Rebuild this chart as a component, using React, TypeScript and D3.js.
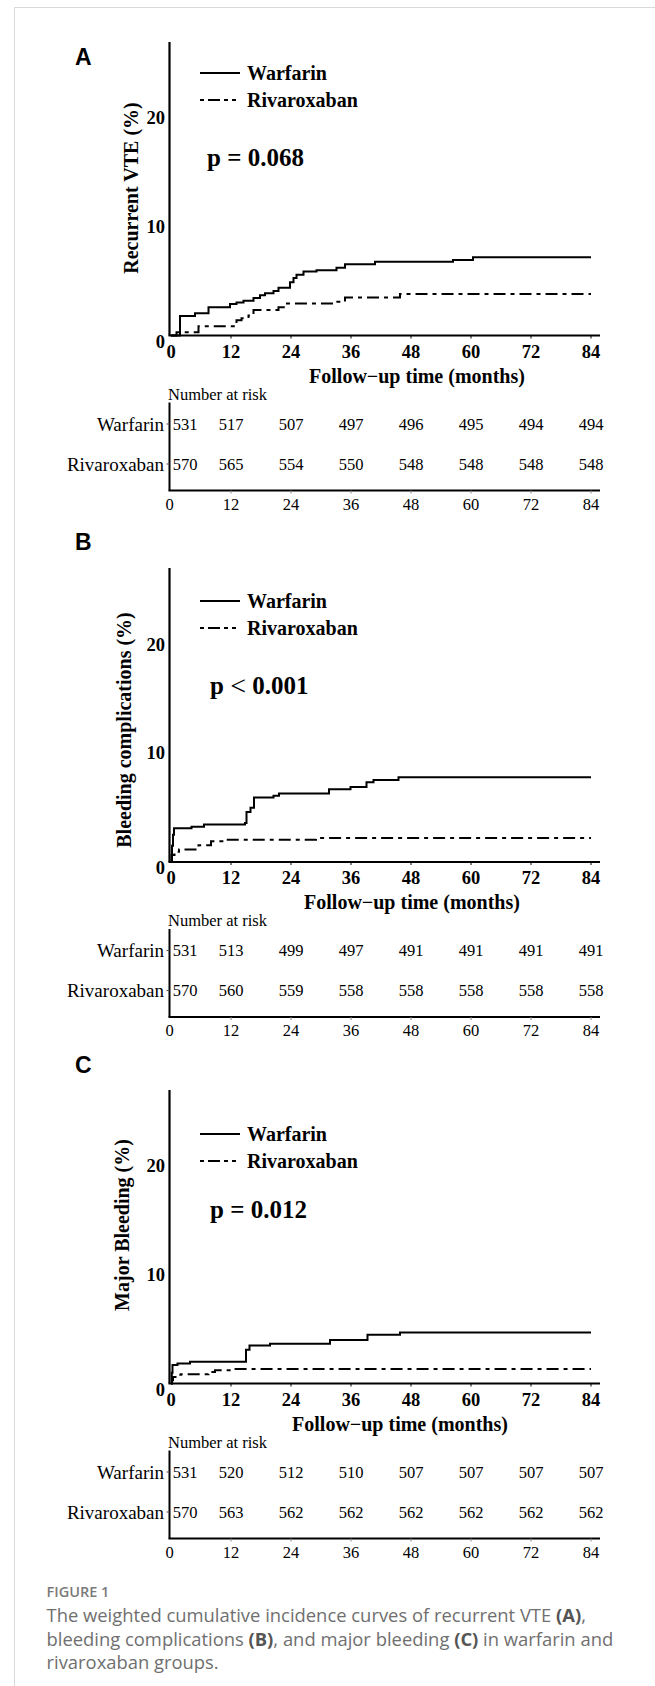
import React, { useRef, useEffect } from 'react';
import * as d3 from 'd3';

type Pt = [number, number];

const monthTicks = [0, 12, 24, 36, 48, 60, 72, 84];
const yTicks = [0, 10, 20];
const groups = ['Warfarin', 'Rivaroxaban'];

// (A) recurrent VTE, cumulative incidence (%), step points [month, value]
const vteWarfarin: Pt[] = [
  [0, 0], [1.8, 1.8], [4.8, 2.05], [7.5, 2.6], [11.8, 2.9], [13.1, 3.05], [14.5, 3.2],
  [16.5, 3.45], [17.8, 3.7], [18.8, 3.9], [20.5, 4.1], [21.5, 4.4], [23.8, 4.9], [24.5, 5.3],
  [25.1, 5.6], [26.5, 5.9], [29.1, 6.0], [33.1, 6.25], [34.8, 6.55], [40.8, 6.8], [56.4, 6.95],
  [60.4, 7.2], [84, 7.2],
];
const vteRivaroxaban: Pt[] = [
  [0, 0], [1.1, 0.3], [5.5, 0.85], [13.1, 1.4], [14.1, 1.6], [15.5, 1.85], [16.5, 2.35],
  [21.5, 2.6], [22.8, 2.95], [33, 3.1], [34.8, 3.5], [45.8, 3.82], [84, 3.82],
];
const vteRiskWarfarin = [531, 517, 507, 497, 496, 495, 494, 494];
const vteRiskRivaroxaban = [570, 565, 554, 550, 548, 548, 548, 548];

// (B) bleeding complications
const bleedWarfarin: Pt[] = [
  [0, 0], [0.2, 1.5], [0.4, 2.5], [0.6, 3.1], [4.1, 3.25], [6.6, 3.45], [14.8, 3.6],
  [15.1, 4.6], [15.9, 5.0], [16.6, 5.95], [20.5, 6.1], [21.6, 6.3], [31.6, 6.7], [35.9, 6.9],
  [39.1, 7.35], [40.5, 7.55], [45.5, 7.8], [84, 7.8],
];
const bleedRivaroxaban: Pt[] = [
  [0, 0], [0.1, 0.65], [0.7, 0.95], [1.6, 1.15], [5.5, 1.55], [8, 1.9], [10.8, 2.05],
  [29, 2.2], [84, 2.2],
];
const bleedRiskWarfarin = [531, 513, 499, 497, 491, 491, 491, 491];
const bleedRiskRivaroxaban = [570, 560, 559, 558, 558, 558, 558, 558];

// (C) major bleeding
const majorWarfarin: Pt[] = [
  [0, 0], [0.15, 1.0], [0.3, 1.7], [1.3, 1.85], [3.8, 2.0], [15, 3.1], [15.7, 3.5],
  [19.8, 3.65], [31.8, 4.0], [39.3, 4.5], [45.8, 4.7], [84, 4.7],
];
const majorRivaroxaban: Pt[] = [
  [0, 0], [0.2, 0.3], [0.4, 0.6], [1.3, 0.8], [2.0, 0.86], [7.5, 1.07], [8.8, 1.23],
  [12.5, 1.33], [84, 1.33],
];
const majorRiskWarfarin = [531, 520, 512, 510, 507, 507, 507, 507];
const majorRiskRivaroxaban = [570, 563, 562, 562, 562, 562, 562, 562];

const panels = [
  {
    letter: 'A', letterY: 57, yLabel: 'Recurrent VTE (%)', pText: ['p = 0.068'],
    top: 42, base: 335.5, legendY: 73, pX: 207, pY: 157, yLabelX: 131, yLabelY: 188, titleX: 417,
    warfarin: vteWarfarin, rivaroxaban: vteRivaroxaban,
    risk: [vteRiskWarfarin, vteRiskRivaroxaban],
  },
  {
    letter: 'B', letterY: 542, yLabel: 'Bleeding complications (%)', pText: ['p ', '<', ' 0.001'],
    top: 568, base: 862, legendY: 601, pX: 210, pY: 685, yLabelX: 124, yLabelY: 730, titleX: 412,
    warfarin: bleedWarfarin, rivaroxaban: bleedRivaroxaban,
    risk: [bleedRiskWarfarin, bleedRiskRivaroxaban],
  },
  {
    letter: 'C', letterY: 1065, yLabel: 'Major Bleeding (%)', pText: ['p = 0.012'],
    top: 1090, base: 1383.5, legendY: 1134, pX: 210, pY: 1209, yLabelX: 122, yLabelY: 1225, titleX: 400,
    warfarin: majorWarfarin, rivaroxaban: majorRivaroxaban,
    risk: [majorRiskWarfarin, majorRiskRivaroxaban],
  },
];

const serif = '"Liberation Serif", "Times New Roman", serif';
const DASH = '12,5,4,5';

export default function App() {
  const svgRef = useRef<SVGSVGElement>(null);

  useEffect(() => {
    const svg = d3.select(svgRef.current);
    svg.selectAll('*').remove();

    // card frame
    svg.append('path')
      .attr('d', 'M14.5,1686 V7.5 H655')
      .attr('fill', 'none')
      .attr('stroke', '#d9d9d9')
      .attr('stroke-width', 1);

    const x = d3.scaleLinear().domain([0, 84]).range([171, 591]);

    panels.forEach(p => {
      const g = svg.append('g').style('font-family', serif);
      const y = d3.scaleLinear().domain([0, 27]).range([p.base, p.base - 293.2]);

      g.append('text')
        .attr('x', 75).attr('y', p.letterY)
        .attr('dominant-baseline', 'central')
        .style('font-family', '"Liberation Sans", Arial, sans-serif')
        .style('font-weight', 700).style('font-size', '23px')
        .text(p.letter);

      // axes
      g.append('line')
        .attr('x1', 169.5).attr('x2', 169.5).attr('y1', p.top).attr('y2', p.base)
        .attr('stroke', '#000').attr('stroke-width', 2.2);
      g.append('line')
        .attr('x1', 168.5).attr('x2', 600).attr('y1', p.base).attr('y2', p.base)
        .attr('stroke', '#000').attr('stroke-width', 2.2);

      g.selectAll('.xtick')
        .data(monthTicks.slice(1))
        .join('line')
        .attr('x1', d => x(d)).attr('x2', d => x(d))
        .attr('y1', p.base).attr('y2', p.base + 3)
        .attr('stroke', '#000').attr('stroke-width', 1);

      g.selectAll('.xlab')
        .data(monthTicks)
        .join('text')
        .attr('x', d => x(d)).attr('y', p.base + 16)
        .attr('text-anchor', 'middle').attr('dominant-baseline', 'central')
        .style('font-weight', 700).style('font-size', '18.5px')
        .text(d => d);

      g.selectAll('.ylab')
        .data(yTicks)
        .join('text')
        .attr('x', 165).attr('y', d => (d === 0 ? y(d) + 6 : y(d)))
        .attr('text-anchor', 'end').attr('dominant-baseline', 'central')
        .style('font-weight', 700).style('font-size', '18.5px')
        .text(d => d);

      g.append('text')
        .attr('transform', `translate(${p.yLabelX},${p.yLabelY}) rotate(-90)`)
        .attr('text-anchor', 'middle').attr('dominant-baseline', 'central')
        .style('font-weight', 700).style('font-size', '20px')
        .text(p.yLabel);

      g.append('text')
        .attr('x', p.titleX).attr('y', p.base + 40)
        .attr('text-anchor', 'middle').attr('dominant-baseline', 'central')
        .style('font-weight', 700).style('font-size', '20px')
        .text('Follow\u2212up time (months)');

      // curves
      const line = d3.line<Pt>()
        .x(d => x(d[0]))
        .y(d => y(d[1]))
        .curve(d3.curveStepAfter);

      g.append('path')
        .attr('d', line(p.warfarin))
        .attr('fill', 'none').attr('stroke', '#000').attr('stroke-width', 2);
      g.append('path')
        .attr('d', line(p.rivaroxaban))
        .attr('fill', 'none').attr('stroke', '#000').attr('stroke-width', 2)
        .attr('stroke-dasharray', DASH);

      // legend
      groups.forEach((name, i) => {
        const ly = p.legendY + i * 27;
        g.append('line')
          .attr('x1', 200).attr('x2', 240).attr('y1', ly).attr('y2', ly)
          .attr('stroke', '#000').attr('stroke-width', 2)
          .attr('stroke-dasharray', i === 1 ? '4,4,12,4,4,4' : null);
        g.append('text')
          .attr('x', 247).attr('y', ly)
          .attr('dominant-baseline', 'central')
          .style('font-weight', 700).style('font-size', '20px')
          .text(name);
      });

      const pt = g.append('text')
        .attr('x', p.pX).attr('y', p.pY)
        .attr('dominant-baseline', 'central')
        .style('font-weight', 700).style('font-size', '25px')
        .attr('xml:space', 'preserve');
      p.pText.forEach(s => {
        pt.append('tspan')
          .style('font-weight', s === '<' ? 400 : 700)
          .style('font-size', s === '<' ? '28px' : '25px')
          .text(s);
      });

      // number at risk table
      g.append('text')
        .attr('x', 168).attr('y', p.base + 58.5)
        .attr('dominant-baseline', 'central')
        .style('font-size', '16.5px')
        .text('Number at risk');

      g.append('line')
        .attr('x1', 169.5).attr('x2', 169.5).attr('y1', p.base + 67).attr('y2', p.base + 155)
        .attr('stroke', '#000').attr('stroke-width', 2);
      g.append('line')
        .attr('x1', 168.5).attr('x2', 600).attr('y1', p.base + 155).attr('y2', p.base + 155)
        .attr('stroke', '#000').attr('stroke-width', 2);

      g.selectAll('.rtick')
        .data(monthTicks.slice(1))
        .join('line')
        .attr('x1', d => x(d)).attr('x2', d => x(d))
        .attr('y1', p.base + 155).attr('y2', p.base + 158)
        .attr('stroke', '#888').attr('stroke-width', 1);

      g.selectAll('.rlab')
        .data(monthTicks)
        .join('text')
        .attr('x', d => (d === 0 ? 169.5 : x(d))).attr('y', p.base + 168.5)
        .attr('text-anchor', 'middle').attr('dominant-baseline', 'central')
        .style('font-size', '16.5px')
        .text(d => d);

      groups.forEach((name, i) => {
        const ry = p.base + 88.5 + i * 40;
        g.append('line')
          .attr('x1', 166.5).attr('x2', 169.5).attr('y1', ry).attr('y2', ry)
          .attr('stroke', '#555').attr('stroke-width', 1);
        g.append('text')
          .attr('x', 164).attr('y', ry)
          .attr('text-anchor', 'end').attr('dominant-baseline', 'central')
          .style('font-size', '19px')
          .text(name);
        g.selectAll(`.risk${i}`)
          .data(p.risk[i])
          .join('text')
          .attr('x', (_, j) => Math.max(x(monthTicks[j]), 185))
          .attr('y', ry)
          .attr('text-anchor', 'middle').attr('dominant-baseline', 'central')
          .style('font-size', '16.5px')
          .text(d => d);
      });
    });

    // caption
    const cap = svg.append('g').style('font-family', '"Open Sans", Lato, sans-serif');
    cap.append('text')
      .attr('x', 46.5).attr('y', 1591)
      .attr('dominant-baseline', 'central')
      .style('font-weight', 600).style('font-size', '14.5px').style('fill', '#7a7a7a')
      .text('FIGURE 1');

    const captionLines = [
      ['The weighted cumulative incidence curves of recurrent VTE ', '(A)', ','],
      ['bleeding complications ', '(B)', ', and major bleeding ', '(C)', ' in warfarin and'],
      ['rivaroxaban groups.'],
    ];
    captionLines.forEach((parts, i) => {
      const t = cap.append('text')
        .attr('x', 46.5).attr('y', 1614 + i * 23.5)
        .attr('dominant-baseline', 'central')
        .attr('xml:space', 'preserve')
        .style('font-size', '18.4px').style('fill', '#6f6f6f');
      parts.forEach(s => {
        const bold = /^\([ABC]\)$/.test(s);
        t.append('tspan')
          .style('font-weight', bold ? 700 : 400)
          .style('fill', bold ? '#555' : '#6f6f6f')
          .text(s);
      });
    });
  }, []);

  return (
    <svg
      ref={svgRef}
      width={655}
      height={1686}
      style={{ position: 'absolute', left: 0, top: 0, display: 'block', background: '#fff' }}
    />
  );
}
